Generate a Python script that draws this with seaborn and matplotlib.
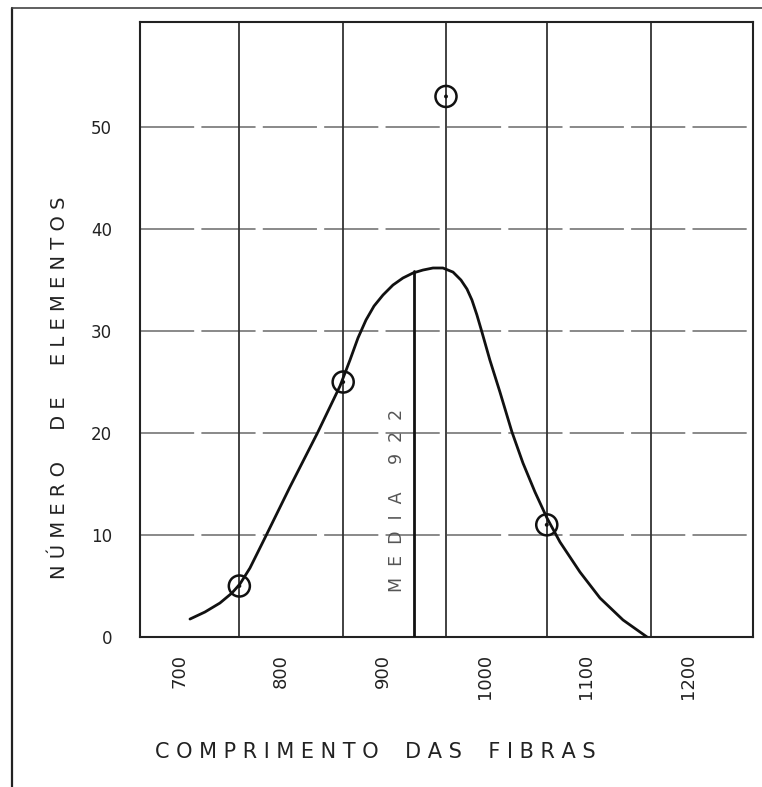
import matplotlib
matplotlib.use("Agg")
import matplotlib.pyplot as plt
from matplotlib.lines import Line2D
import seaborn as sns
import pandas as pd

# --- data ---
curve_x = [710.5, 725.2, 739.9, 751.7, 759.6, 769.4, 784.1, 808.7, 836.2, 857.9,
           867.7, 875.5, 883.4, 891.3, 900.1, 909.9, 919.7, 929.6,
           939.4, 949.2, 959.0, 968.9, 976.7, 982.6, 987.5, 992.4, 997.3, 1005.1,
           1015.0, 1026.8, 1037.6, 1049.4, 1061.2, 1074.0, 1093.6, 1113.3,
           1135.9, 1159.5]
curve_y = [1.76, 2.45, 3.33, 4.31, 5.20, 6.76, 9.71, 14.71, 20.10, 24.61,
           27.16, 29.31, 31.08, 32.45, 33.53, 34.51, 35.20, 35.69,
           35.98, 36.18, 36.18, 35.78, 35.0, 34.12, 33.04, 31.57, 29.90, 27.16,
           24.02, 20.10, 17.06, 14.22, 11.67, 9.31, 6.37, 3.82,
           1.67, 0.0]
point_x = [759, 861, 962, 1061]
point_y = [5, 25, 53, 11]
class_lines = [759, 861, 962, 1061, 1163]
x_ticks = [700, 800, 900, 1000, 1100, 1200]
y_ticks = [0, 10, 20, 30, 40, 50]
median_x = 931
median_top = 35.9
median_label = "M  E  D  I  A     9  2  2"
x_label = "C O M P R I M E N T O    D A S    F I B R A S"
y_label = "N Ú M E R O     D E     E L E M E N T O S"

sns.set_theme(style="white")
plt.rcParams['font.family'] = ['DejaVu Sans']

W, H = 762, 787
fig = plt.figure(figsize=(W / 100, H / 100), dpi=100)
fig.patch.set_facecolor("white")
L, R, T, B = 140, 753, 22, 637
ax = fig.add_axes([L / W, 1 - B / H, (R - L) / W, (B - T) / H])
ax.set_facecolor("white")

ax.set_xlim(661.4, 1263.6)
ax.set_ylim(0, 60.3)

# grid: horizontal gray dashed, vertical dark solid
for yv in y_ticks[1:]:
    ax.axhline(yv, color="#808080", lw=1.3, ls=(0, (30, 4)), zorder=1)
for xv in class_lines:
    ax.axvline(xv, color="#333333", lw=1.3, zorder=1)

df_curve = pd.DataFrame({"x": curve_x, "y": curve_y})
sns.lineplot(data=df_curve, x="x", y="y", ax=ax, color="#111111", lw=2.0,
             sort=False, zorder=3)

# median line
ax.plot([median_x, median_x], [0, median_top], color="#111111", lw=2.0, zorder=3)
ax.text(914.3, 13.4, median_label, rotation=90, ha="center", va="center",
        fontsize=12.5, color="#555555", zorder=4)

df_pts = pd.DataFrame({"x": point_x, "y": point_y})
sns.scatterplot(data=df_pts, x="x", y="y", ax=ax, s=230, facecolor="none",
                edgecolor="#111111", linewidth=1.8, zorder=5)
sns.scatterplot(data=df_pts, x="x", y="y", ax=ax, s=8, color="#111111",
                edgecolor="none", zorder=6)

for sp in ax.spines.values():
    sp.set_color("#222222")
    sp.set_linewidth(1.5)
    sp.set_visible(True)

ax.set_xticks(x_ticks)
ax.set_xticklabels([str(v) for v in x_ticks], rotation=90, fontsize=13,
                   color="#222222")
ax.set_yticks(y_ticks)
ax.set_yticklabels([str(v) for v in y_ticks], fontsize=12, color="#222222")
ax.tick_params(axis="x", length=0, pad=12)
ax.tick_params(axis="y", length=0, pad=20)
ax.set_xlabel("")
ax.set_ylabel("")

fig.text(60 / W, 1 - 388 / H, y_label, rotation=90, ha="center", va="center",
         fontsize=14, color="#222222")
fig.text(375 / W, 1 - 752 / H, x_label, ha="center", va="center",
         fontsize=15, color="#222222")

# page border lines of the scan
fig.add_artist(Line2D([12 / W, 12 / W], [0, 1 - 8 / H], color="#222222", lw=1.6))
fig.add_artist(Line2D([12 / W, 1], [1 - 8 / H, 1 - 8 / H], color="#444444", lw=1.2))

fig.savefig("out.png", dpi=100, facecolor="white")
